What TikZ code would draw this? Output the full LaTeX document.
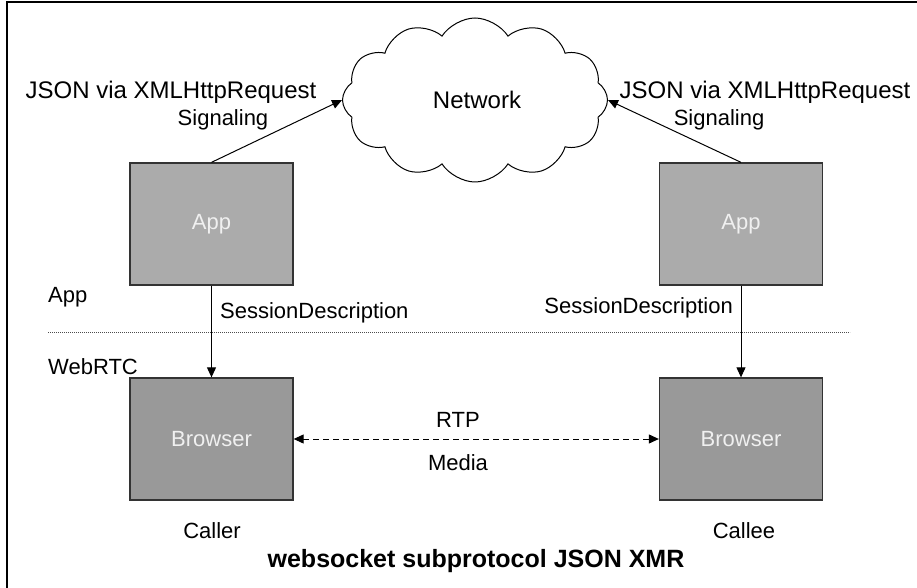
\documentclass[tikz,border=0pt]{standalone}
\usepackage{fontspec}
\setmainfont{Liberation Sans}
\usetikzlibrary{shapes.symbols,arrows.meta}
\begin{document}
\begin{tikzpicture}[x=1bp,y=-1bp,
  box/.style={draw=black!80,line width=1.3bp,minimum width=163bp,minimum height=122bp,inner sep=0pt,text=white!94!black,font=\fontsize{22bp}{26bp}\selectfont},
  appbox/.style={box,fill=black!33},
  brbox/.style={box,fill=black!40},
  lbl/.style={inner sep=0pt,anchor=base,font=\fontsize{22bp}{26bp}\selectfont},
  biglbl/.style={inner sep=0pt,anchor=base,font=\fontsize{24bp}{28bp}\selectfont},
  arr/.style={line width=1bp,-{Triangle[length=10bp,width=9bp]}},
]
\useasboundingbox (0,0) rectangle (917,588);
\fill[white] (0,0) rectangle (917,588);
\draw[line width=2bp] (6.5,588) -- (6.5,2.5) -- (917,2.5);

% cloud
\node[cloud, cloud puffs=12, cloud puff arc=115, aspect=1.6, draw, line width=1bp,
      minimum width=265bp, minimum height=164bp, inner sep=0pt] (net) at (475,100) {};
\node[biglbl] (nettxt) at (477,109) {Network};

% boxes
\node[appbox] (app1) at (211.5,224) {App};
\node[appbox] (app2) at (741,224) {App};
\node[brbox] (br1) at (211.5,439) {Browser};
\node[brbox] (br2) at (741,439) {Browser};

% separator
\coordinate (sepL) at (48,332);
\coordinate (sepR) at (850,332);
\draw[black!70, line width=0.8bp, dash pattern=on 1bp off 1bp] (sepL) -- (sepR);

% connectors
\draw[arr] (app1.north) -- (net.west);
\draw[arr] (app2.north) -- (net.east);
\draw[arr] (app1.south) -- (br1.north);
\draw[arr] (app2.south) -- (br2.north);
\draw[line width=1bp, dash pattern=on 6bp off 4bp, {Triangle[length=10bp,width=9bp]}-{Triangle[length=10bp,width=9bp]}] (br1.east) -- (br2.west);

% labels
\node[biglbl] (j1) at (171,99) {JSON via XMLHttpRequest};
\node[lbl] (s1) at (223,126) {Signaling};
\node[biglbl] (j2) at (765,99) {JSON via XMLHttpRequest};
\node[lbl] (s2) at (719,126) {Signaling};
\node[lbl, anchor=base west] (applbl) at (48,302) {App};
\node[lbl, anchor=base west] (webrtc) at (48,374) {WebRTC};
\node[lbl, anchor=base west] (sd1) at (220,318) {SessionDescription};
\node[lbl, anchor=base east] (sd2) at (733,313) {SessionDescription};
\node[lbl] (rtp) at (458,427) {RTP};
\node[lbl] (media) at (458,470) {Media};
\node[lbl] (caller) at (212,538) {Caller};
\node[lbl] (callee) at (744,538) {Callee};
\node[inner sep=0pt, anchor=base, font=\fontsize{25bp}{30bp}\selectfont\bfseries] (title) at (476,567) {websocket subprotocol JSON XMR};
\end{tikzpicture}
\end{document}
